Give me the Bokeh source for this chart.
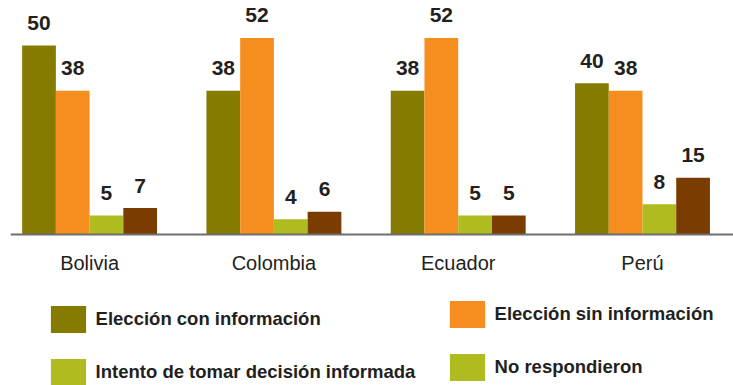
from bokeh.plotting import figure
from bokeh.models import Range1d, Legend, LegendItem, FixedTicker, ColumnDataSource
from bokeh.core.properties import value
from bokeh.embed import file_html
from bokeh.resources import INLINE

# Survey results by country (percent)
countries = ["Bolivia", "Colombia", "Ecuador", "Perú"]
series_names = [
    "Elección con información",
    "Elección sin información",
    "Intento de tomar decisión informada",
    "No respondieron",
]
con_informacion = [50, 38, 38, 40]
sin_informacion = [38, 52, 52, 38]
intento_informada = [5, 4, 5, 8]
no_respondieron = [7, 6, 5, 15]

series_values = [con_informacion, sin_informacion, intento_informada, no_respondieron]
colors = ["#847b00", "#f68e1f", "#b0bb1f", "#7b3c00"]

FONT = "Liberation Sans"
TEXT = "#231f20"

p = figure(
    width=733, height=385,
    x_range=Range1d(-0.4292, 3.4938),
    y_range=Range1d(-39.95, 61.9),
    output_backend="svg", toolbar_location=None,
    min_border=0, min_border_left=10,
    outline_line_color=None,
)
p.grid.visible = False
p.yaxis.visible = False

bar_w = 0.183
offsets = [-1.5 * bar_w, -0.5 * bar_w, 0.5 * bar_w, 1.5 * bar_w]

renderers = []
for vals, off, col in zip(series_values, offsets, colors):
    src = ColumnDataSource(dict(
        x=[i + off for i in range(len(countries))],
        top=vals,
        label=[str(v) for v in vals],
    ))
    r = p.vbar(x="x", top="top", bottom=0, width=bar_w, source=src,
               fill_color=col, line_color=None)
    renderers.append(r)
    p.text(x="x", y="top", text="label", source=src,
           text_align="center", text_baseline="bottom", y_offset=-15.5,
           text_font=value(FONT), text_font_style="bold",
           text_font_size="21px", text_color=TEXT)

# category axis sitting on the zero line
ax = p.xaxis[0]
ax.fixed_location = 0
ax.ticker = FixedTicker(ticks=list(range(len(countries))))
ax.major_label_overrides = {i: c for i, c in enumerate(countries)}
ax.major_tick_line_color = None
ax.minor_tick_line_color = None
ax.major_tick_out = 0
ax.major_tick_in = 0
ax.axis_line_color = "#6d6e71"
ax.axis_line_width = 2
ax.major_label_standoff = 18
ax.major_label_text_font = FONT
ax.major_label_text_font_size = "20px"
ax.major_label_text_color = TEXT


def make_legend(items, loc):
    lg = Legend(items=items, location=loc, orientation="vertical",
                glyph_width=44, glyph_height=34, label_height=34,
                spacing=19, padding=0, margin=0, label_standoff=6,
                border_line_color=None, background_fill_alpha=0,
                label_text_font=FONT, label_text_font_style="bold",
                label_text_font_size="18.5px", label_text_color=TEXT)
    p.add_layout(lg, "center")


make_legend([
    LegendItem(label=series_names[0], renderers=[renderers[0]]),
    LegendItem(label=series_names[2], renderers=[renderers[2]]),
], (35.6, -3.6))
make_legend([
    LegendItem(label=series_names[1], renderers=[renderers[1]]),
    LegendItem(label=series_names[3], renderers=[renderers[2]]),
], (434.6, 1.4))

open("out.html", "w").write(file_html(p, INLINE))
